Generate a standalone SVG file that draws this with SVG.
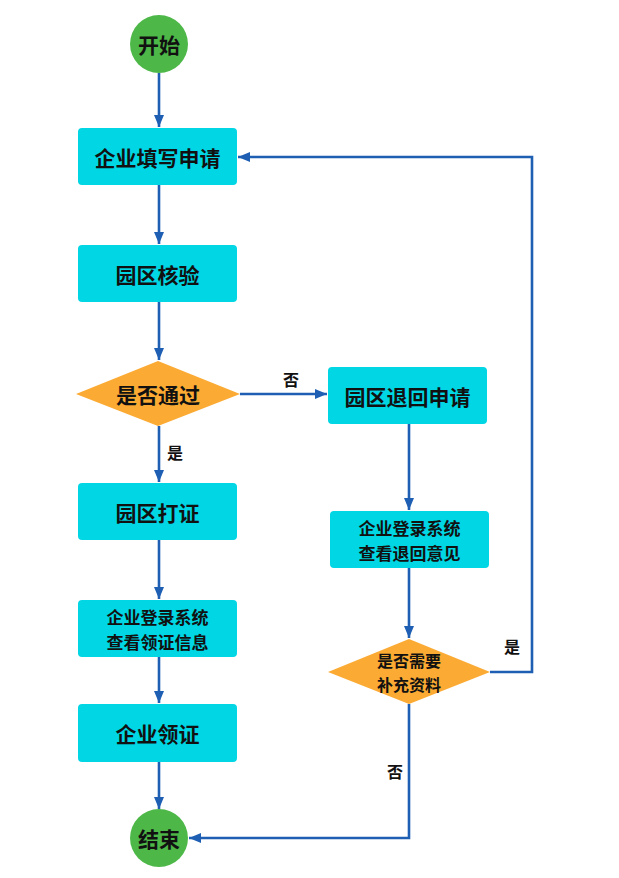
<svg xmlns="http://www.w3.org/2000/svg" width="619" height="878" viewBox="0 0 619 878">
<style>
.box{fill:#00D6E4;}
.circ{fill:#4DB848;}
.dia{fill:#FBAA33;}
.t{font-family:"Noto Sans CJK SC","Noto Sans",sans-serif;font-weight:bold;fill:#111;text-anchor:middle;dominant-baseline:central;}
.t1{font-size:21px;}
.t2{font-size:17px;}
.t3{font-size:16px;}
.lbl{font-size:16px;}
.ln{fill:none;stroke:#1E5FB4;stroke-width:2.6;}
</style>
<defs>
<marker id="ah" viewBox="0 0 12 10" refX="12" refY="5" markerWidth="12" markerHeight="10" markerUnits="userSpaceOnUse" orient="auto">
<path d="M0,0 L12,5 L0,10 Z" fill="#1E5FB4"/>
</marker>
</defs>
<rect width="619" height="878" fill="#fff"/>
<g id="connectors">
<path class="ln" d="M159,73 V127" marker-end="url(#ah)"/>
<path class="ln" d="M159,185 V244" marker-end="url(#ah)"/>
<path class="ln" d="M159,302 V360" marker-end="url(#ah)"/>
<path class="ln" d="M240,394 H327" marker-end="url(#ah)"/>
<path class="ln" d="M159,426 V482" marker-end="url(#ah)"/>
<path class="ln" d="M159,540 V599" marker-end="url(#ah)"/>
<path class="ln" d="M159,657 V703" marker-end="url(#ah)"/>
<path class="ln" d="M159,762 V809" marker-end="url(#ah)"/>
<path class="ln" d="M409,424 V510" marker-end="url(#ah)"/>
<path class="ln" d="M409,568 V638" marker-end="url(#ah)"/>
<path class="ln" d="M490,672 H532 V157 H238" marker-end="url(#ah)"/>
<path class="ln" d="M409,704 V838 H189" marker-end="url(#ah)"/>
<text class="t lbl" x="291" y="379">否</text>
<text class="t lbl" x="175" y="452">是</text>
<text class="t lbl" x="512" y="646">是</text>
<text class="t lbl" x="395" y="771">否</text>
</g>
<g id="start"><circle class="circ" cx="159" cy="44" r="29"/><text class="t t1" x="159" y="44">开始</text></g>
<g id="n1"><rect class="box" x="78" y="128" width="159" height="57" rx="4"/><text class="t t1" x="157.5" y="156.5">企业填写申请</text></g>
<g id="n2"><rect class="box" x="78" y="245" width="159" height="57" rx="4"/><text class="t t1" x="157.5" y="273.5">园区核验</text></g>
<g id="d1"><polygon class="dia" points="76,394 158,361 240,394 158,426"/><text class="t t1" x="158" y="394">是否通过</text></g>
<g id="n3"><rect class="box" x="328" y="367" width="159" height="57" rx="4"/><text class="t t1" x="407.5" y="395.5">园区退回申请</text></g>
<g id="n4"><rect class="box" x="78" y="483" width="159" height="57" rx="4"/><text class="t t1" x="157.5" y="511.5">园区打证</text></g>
<g id="n5"><rect class="box" x="78" y="600" width="159" height="57" rx="4"/><text class="t t2"><tspan x="157.5" y="616">企业登录系统</tspan><tspan x="157.5" y="641">查看领证信息</tspan></text></g>
<g id="n6"><rect class="box" x="78" y="704" width="159" height="58" rx="4"/><text class="t t1" x="157.5" y="733">企业领证</text></g>
<g id="end"><circle class="circ" cx="159" cy="838" r="29"/><text class="t t1" x="159" y="838">结束</text></g>
<g id="n7"><rect class="box" x="330" y="511" width="159" height="57" rx="4"/><text class="t t2"><tspan x="409.5" y="527">企业登录系统</tspan><tspan x="409.5" y="552">查看退回意见</tspan></text></g>
<g id="d2"><polygon class="dia" points="328,672 409,639 490,672 409,704"/><text class="t t3"><tspan x="409" y="660">是否需要</tspan><tspan x="409" y="684">补充资料</tspan></text></g>
</svg>
